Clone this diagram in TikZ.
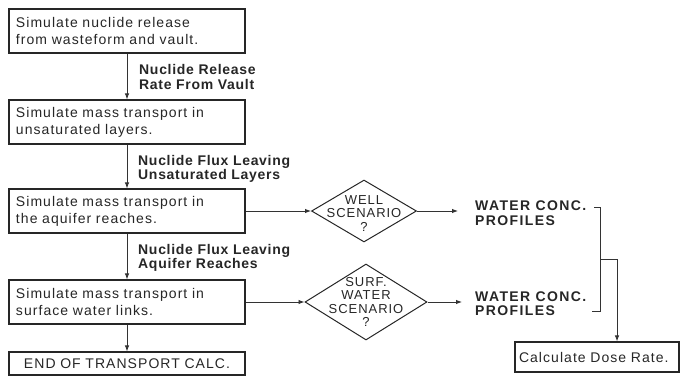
\documentclass[tikz,border=0pt]{standalone}
\usepackage{fontspec}
\setmainfont{Liberation Sans}
\newfontfamily\bxfont[LetterSpace=7.5]{Liberation Sans}
\newfontfamily\lbfont[LetterSpace=5]{Liberation Sans Bold}
\newfontfamily\wcfont[LetterSpace=10]{Liberation Sans Bold}
\usetikzlibrary{shapes.geometric,arrows.meta}
\begin{document}
\begin{tikzpicture}[x=1pt,y=-1pt,
  ink/.style={draw=black!85, line width=1.1pt},
  conn/.style={draw=black!80, line width=0.9pt},
  arr/.style={conn, -{Latex[length=6pt,width=4.5pt]}},
  box/.style={ink, rectangle, minimum width=236pt, minimum height=44pt,
    text width=222pt, align=left, inner xsep=7pt, inner ysep=0pt,
    font=\bxfont\fontsize{14}{17}\selectfont, text=black!85},
  lbl/.style={anchor=west, align=left, inner sep=0pt,
    font=\lbfont\fontsize{14}{14.5}\selectfont, text=black!85},
  wc/.style={anchor=west, align=left, inner sep=0pt,
    font=\wcfont\fontsize{14}{14.5}\selectfont, text=black!85},
  diam/.style={ink, line width=1pt, diamond, inner sep=0pt},
  dtext/.style={align=center, inner sep=0pt,
    font=\bxfont\fontsize{13}{13.5}\selectfont, text=black!85}
]
\useasboundingbox (0,0) rectangle (687,377);

% process boxes
\node[box] (b1) at (127,31) {Simulate nuclide release\\from wasteform and vault.};
\node[box] (b2) at (127,122) {Simulate mass transport in\\unsaturated layers.};
\node[box] (b3) at (127,211) {Simulate mass transport in\\the aquifer reaches.};
\node[box] (b4) at (127,302) {Simulate mass transport in\\surface water links.};
\node[box, minimum height=23pt, align=center] (b5) at (127,363.5) {END OF TRANSPORT CALC.};
\node[box, minimum width=164pt, text width=156pt, inner xsep=4pt, minimum height=30pt] (dose) at (597,357) {Calculate Dose Rate.};

% labels between boxes
\node[lbl] (l1) at (139,77) {Nuclide Release\\Rate From Vault};
\node[lbl] (l2) at (138,169) {Nuclide Flux Leaving\\Unsaturated Layers};
\node[lbl] (l3) at (138,258) {Nuclide Flux Leaving\\Aquifer Reaches};

% vertical arrows
\draw[arr] (b1.south) -- (b2.north);
\draw[arr] (b2.south) -- (b3.north);
\draw[arr] (b3.south) -- (b4.north);
\draw[arr] (b4.south) -- (b5.north);

% decisions
\node[diam, minimum width=105pt, minimum height=62pt] (d1) at (364,211) {};
\node[dtext] (d1t) at (364,213.5) {WELL\\SCENARIO\\?};
\node[diam, minimum width=122pt, minimum height=76pt] (d2) at (366,302) {};
\node[dtext] (d2t) at (366,302) {SURF.\\WATER\\SCENARIO\\?};

\draw[arr] (b3.east) -- (d1.west);
\draw[arr] (b4.east) -- (d2.west);

% water concentration profiles
\node[wc] (w1) at (475,213) {WATER CONC.\\PROFILES};
\node[wc] (w2) at (475,303.5) {WATER CONC.\\PROFILES};
\coordinate (e1) at (458,211);
\coordinate (e2) at (462,302);
\draw[arr] (d1.east) -- (e1);
\draw[arr] (d2.east) -- (e2);

% bracket to dose
\coordinate (t1) at (594,207);
\coordinate (v1) at (600,207);
\coordinate (t2) at (592,311);
\coordinate (v2) at (600,311);
\coordinate (m) at (600,259);
\coordinate (m2) at (617,259);
\draw[conn] (t1) -- (v1) -- (v2) -- (t2);
\draw[arr] (m) -| (m2 |- dose.north);
\end{tikzpicture}
\end{document}
